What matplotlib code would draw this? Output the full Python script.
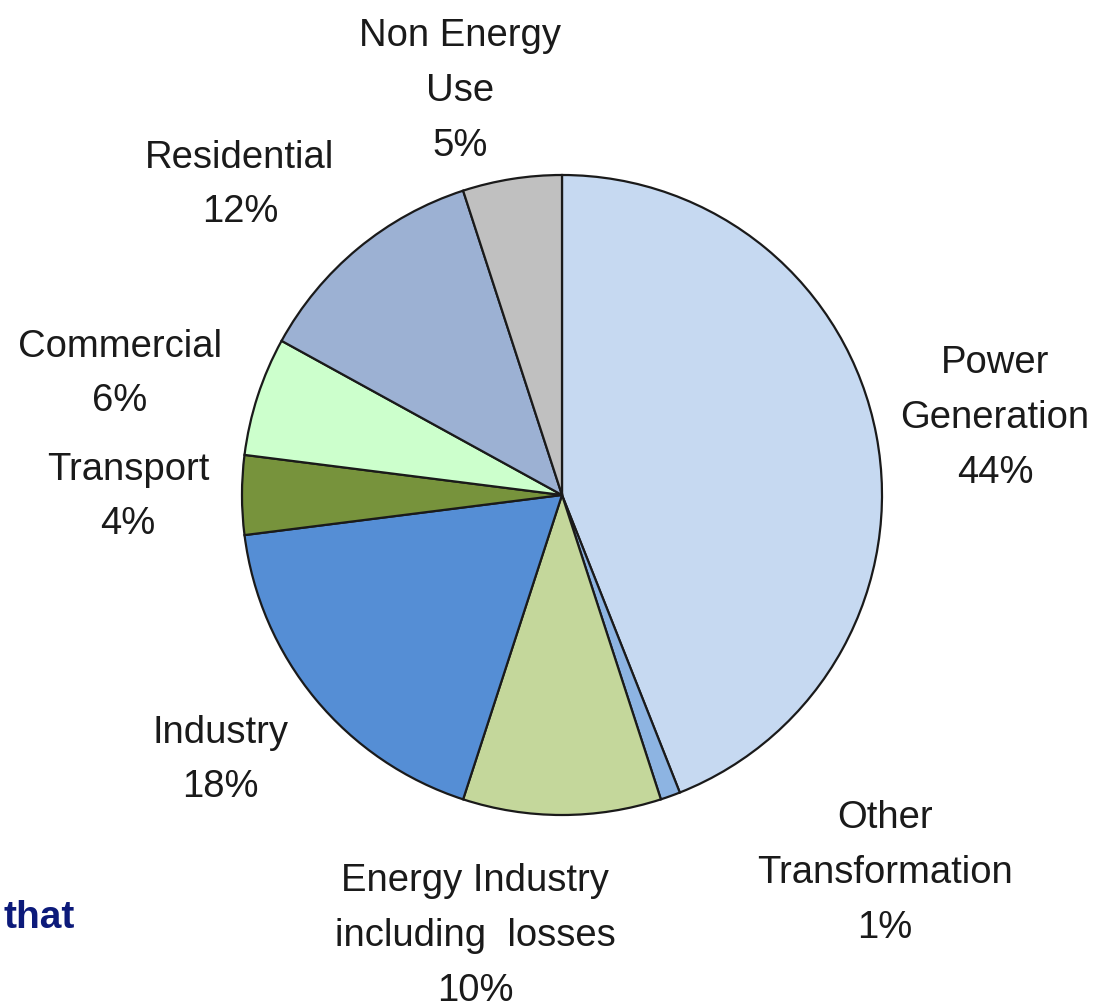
import matplotlib.pyplot as plt

# Datos del gráfico
sectores = ['Power\nGeneration', 'Other\nTransformation', 'Energy Industry\nincluding  losses',
            'Industry', 'Transport', 'Commercial', 'Residential', 'Non Energy\nUse']
porcentajes = [44, 1, 10, 18, 4, 6, 12, 5]
colores = ['#c6d9f1', '#8db4e2', '#c4d79b', '#558ed5', '#77933c', '#ccffcc', '#9cb1d3', '#c0c0c0']

# Posición de cada etiqueta (pixeles de la imagen)
pos_etiquetas = [(995, 418), (885, 873), (475, 936), (220, 760),
                 (128, 497), (120, 374), (240, 185), (460, 91)]

plt.rcParams['font.family'] = ['Liberation Sans Narrow', 'Liberation Sans', 'DejaVu Sans']

W, H = 1106, 1008
fig = plt.figure(figsize=(W / 100, H / 100), dpi=100)
cx, cy, r = 562, 495, 320
ax = fig.add_axes([(cx - r) / W, (H - cy - r) / H, 2 * r / W, 2 * r / H])

ax.pie(porcentajes, colors=colores, startangle=90, counterclock=False,
       wedgeprops={'edgecolor': '#1a1a1a', 'linewidth': 1.6})
ax.set_xlim(-1.0, 1.0)
ax.set_ylim(-1.0, 1.0)
ax.set_aspect('equal')
ax.axis('off')

for nombre, p, (x, y) in zip(sectores, porcentajes, pos_etiquetas):
    fig.text(x / W, 1 - y / H, f'{nombre}\n{p}%', ha='center', va='center',
             fontsize=27.5, linespacing=1.67, color='#1a1a1a')

fig.text(3 / W, 1 - 918 / H, 'that', ha='left', va='center', fontsize=28,
         fontweight='bold', color='#0c1a7a', family=['Liberation Sans', 'DejaVu Sans'])

fig.savefig('out.png', dpi=100)
